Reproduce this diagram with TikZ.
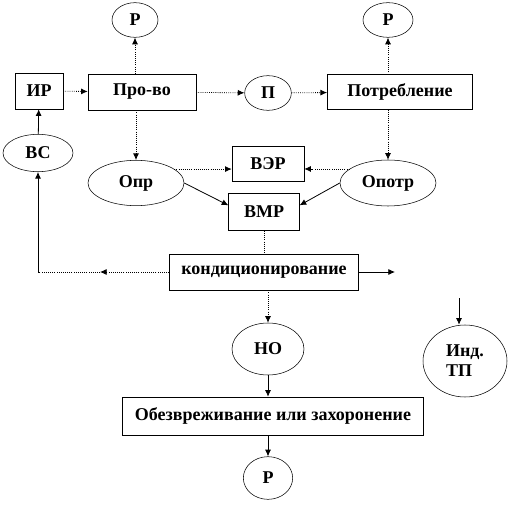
\documentclass[tikz,border=0pt]{standalone}
\usepackage{fontspec}
\setmainfont{Liberation Serif}
\newfontfamily\diagfont{Liberation Serif}
\usetikzlibrary{shapes.geometric, arrows.meta}

\begin{document}
\begin{tikzpicture}[x=0.75pt, y=-0.75pt,
                    font=\diagfont\bfseries\fontsize{13.5}{15}\selectfont,
                    box/.style={draw, rectangle, inner sep=0pt, thin},
                    oval/.style={draw, ellipse, inner sep=0pt, thin},
                    dflow/.style={densely dotted, line width=0.6pt, -{Latex[length=5pt,width=4.5pt]}},
                    sflow/.style={line width=0.6pt, -{Latex[length=5pt,width=4.5pt]}}]
  \useasboundingbox (0,0) rectangle (531,509);
  % top row
  \node[oval, minimum width=34.5pt, minimum height=26pt] (r1) at (135,20) {Р};
  \node[oval, minimum width=37.5pt, minimum height=26pt] (r2) at (388,20) {Р};
  \node[box, minimum width=36pt, minimum height=27pt] (ir) at (39,91) {ИР};
  \node[box, minimum width=81pt, minimum height=27pt] (prod) at (142,92) {Про-во};
  \node[oval, minimum width=35pt, minimum height=26pt] (p) at (268,93) {П};
  \node[box, minimum width=109pt, minimum height=26pt] (potr) at (400,92) {Потребление};
  % middle
  \node[oval, minimum width=52.5pt, minimum height=28pt] (vs) at (38,153) {ВС};
  \node[oval, minimum width=72pt, minimum height=34pt] (opr) at (136,183) {Опр};
  \node[box, minimum width=54pt, minimum height=26pt] (ver) at (268,164) {ВЭР};
  \node[oval, minimum width=72pt, minimum height=34.5pt] (opotr) at (388,183) {Опотр};
  \node[box, minimum width=53pt, minimum height=28pt] (vmr) at (264,212) {ВМР};
  \node[box, minimum width=142pt, minimum height=27pt] (kond) at (264,272) {кондиционирование};
  % bottom
  \node[oval, minimum width=54pt, minimum height=39pt] (no) at (268,349) {НО};
  \node[oval, minimum width=63pt, minimum height=54pt, align=left] (ind) at (465,361) {Инд.\\ТП};
  \node[box, minimum width=226pt, minimum height=28.5pt] (obez) at (273,416) {Обезвреживание или захоронение};
  \node[oval, minimum width=37pt, minimum height=32pt] (r3) at (268,478) {Р};
  \coordinate (lmid) at (100,272);
  \coordinate (lcorner) at (38,272);
  \coordinate (kout) at (395,272);
  \coordinate (indin) at (459,298);

  \draw[dflow] (ir) -- (prod);
  \draw[dflow] (prod.north -| r1) -- (r1.south);
  \draw[dflow] (prod) -- (p);
  \draw[dflow] (p) -- (potr);
  \draw[dflow] (potr.north -| r2) -- (r2.south);
  \draw[dflow] (prod.south -| opr) -- (opr.north);
  \draw[dflow] (potr.south -| opotr) -- (opotr.north);
  \draw[sflow] (vs) -- (ir);
  \draw[dflow] (opr.20) -- (opr.20 -| ver.west);
  \draw[dflow] (opotr.160) -- (opotr.160 -| ver.east);
  \draw[sflow] (opr.east) -- ([yshift=5pt]vmr.west);
  \draw[sflow] (opotr.west) -- ([yshift=5pt]vmr.east);
  \draw[densely dotted, line width=0.6pt] (vmr) -- (kond);
  \draw[dflow] (kond) -- (lmid);
  \draw[densely dotted, line width=0.6pt] (lmid) -- (lcorner);
  \draw[sflow] (lcorner) -- (vs.south);
  \draw[sflow] (kond) -- (kout);
  \draw[dflow] (kond.south -| no) -- (no.north);
  \draw[sflow] (indin) -- (ind.north -| indin);
  \draw[sflow] (no.south) -- (no.south |- obez.north);
  \draw[sflow] (obez.south -| r3) -- (r3.north);
\end{tikzpicture}
\end{document}
